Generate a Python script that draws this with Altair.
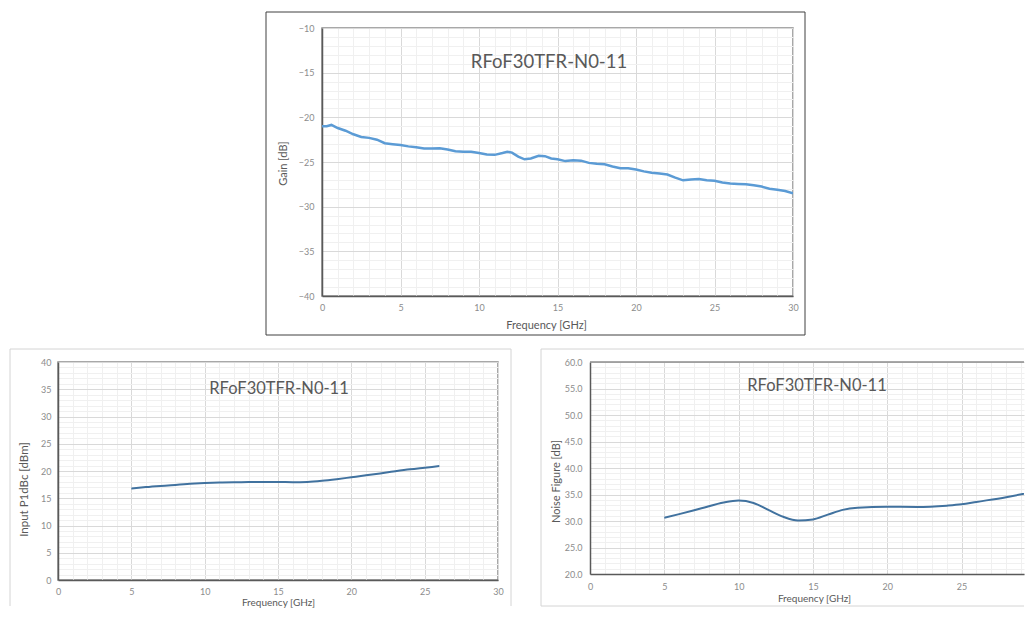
import altair as alt
import pandas as pd

# ---------------- data ----------------
gain_freq = [0, 0.3, 0.6, 1, 1.5, 2, 2.5, 3, 3.5, 4, 4.5, 5, 5.5, 6, 6.5, 7, 7.5, 8, 8.5, 9, 9.5,
             10, 10.5, 11, 11.5, 11.8, 12.1, 12.5, 12.9, 13.3, 13.8, 14.2, 14.6,
             15, 15.5, 16, 16.5, 17, 17.5, 18, 18.5, 19, 19.5, 20, 20.5, 21, 21.5, 22, 22.5,
             23, 23.5, 24, 24.5, 25, 25.5, 26, 26.5, 27, 27.5, 28, 28.5, 29, 29.5, 30]
gain_db = [-21.0, -21.0, -20.85, -21.2, -21.5, -21.9, -22.2, -22.3, -22.5, -22.9, -23.0, -23.1,
           -23.25, -23.35, -23.5, -23.5, -23.45, -23.6, -23.8, -23.85, -23.85, -24.0, -24.15,
           -24.2, -24.0, -23.85, -23.95, -24.4, -24.7, -24.6, -24.3, -24.35, -24.6,
           -24.7, -24.9, -24.8, -24.85, -25.1, -25.2, -25.25, -25.5, -25.7, -25.7, -25.85,
           -26.05, -26.2, -26.3, -26.4, -26.75, -27.05, -26.95, -26.9, -27.05, -27.1, -27.3,
           -27.4, -27.45, -27.5, -27.6, -27.75, -28.0, -28.1, -28.25, -28.5]

p1_freq = [5, 6, 7.5, 9, 10, 11, 12.5, 14, 15, 16, 17, 18, 19, 20, 21, 22.5, 24, 25, 26]
p1_dbm = [16.8, 17.05, 17.35, 17.65, 17.8, 17.9, 17.95, 18.0, 18.0, 17.95, 18.0, 18.2, 18.5,
          18.85, 19.2, 19.75, 20.3, 20.6, 20.9]

nf_freq = [5, 6, 7.5, 9, 10, 11, 12, 13, 14, 15, 16, 17, 18, 20, 22, 24, 25, 26, 28, 30]
nf_db = [30.6, 31.3, 32.4, 33.5, 33.85, 33.4, 32.1, 30.8, 30.1, 30.3, 31.2, 32.1, 32.5, 32.7,
         32.65, 32.9, 33.15, 33.6, 34.5, 35.6]

chart_title = "RFoF30TFR-N0-11"
x_ticks = list(range(0, 31))
x_ticks_nf = list(range(0, 30))
gain_ticks = list(range(-40, -9))
p1_ticks = list(range(0, 41))
nf_ticks = list(range(20, 61))

FONT = "Lato"
GRID = {"condition": {"test": "datum.value % 5 === 0", "value": "#d9d9d9"}, "value": "#f0f0f0"}
LABEL_EXPR = "datum.value % 5 === 0 ? datum.label : ''"


def x_axis(values, title, tx, ty, pad, tsize):
    return alt.Axis(values=values, labelExpr=LABEL_EXPR, gridColor=GRID, gridWidth=1,
                    ticks=False, tickSize=0, domainColor="#595959", domainWidth=1.5,
                    labelFont=FONT, labelFontSize=9, labelColor="#8c8c8c", labelPadding=pad,
                    labelFlush=False, labelOverlap=False,
                    title=title, titleFont=FONT, titleFontSize=tsize, titleFontWeight="normal",
                    titleColor="#595959", titleX=tx, titleY=ty, titleBaseline="middle",
                    titleAlign="center")


def y_axis(values, title, tx, ty, pad, tsize, fmt=None):
    kw = {}
    if fmt:
        kw["format"] = fmt
    return alt.Axis(values=values, labelExpr=LABEL_EXPR, gridColor=GRID, gridWidth=1,
                    ticks=False, tickSize=0, domainColor="#595959", domainWidth=1.5,
                    labelFont=FONT, labelFontSize=9, labelColor="#8c8c8c", labelPadding=pad,
                    labelFlush=False, labelOverlap=False,
                    title=title, titleFont=FONT, titleFontSize=tsize, titleFontWeight="normal",
                    titleColor="#595959", titleX=tx, titleY=ty, titleAngle=270,
                    titleBaseline="middle", titleAlign="center", **kw)


one = pd.DataFrame({"k": [0]})


def seg(x1, x2, y1, y2, color, sw=1):
    return alt.Chart(one).mark_rule(color=color, strokeWidth=sw).encode(
        x=alt.value(x1), x2=alt.value(x2), y=alt.value(y1), y2=alt.value(y2))


def panel(freq, vals, ycol, w, h, xdom, ydom, yax, xax, color, width, interp,
          tx, ty, tsize, frame_layers):
    df = pd.DataFrame({"Frequency": freq, ycol: vals})
    line = alt.Chart(df).mark_line(color=color, strokeWidth=width, interpolate=interp,
                                   clip=True).encode(
        x=alt.X("Frequency:Q", scale=alt.Scale(domain=xdom, nice=False, zero=False), axis=xax),
        y=alt.Y(f"{ycol}:Q", scale=alt.Scale(domain=ydom, nice=False, zero=False), axis=yax),
    )
    label = alt.Chart(one).mark_text(text=chart_title, font=FONT, fontSize=tsize, color="#595959",
                                     align="center", baseline="middle").encode(
        x=alt.value(tx), y=alt.value(ty))
    return alt.layer(line, label, *frame_layers).properties(width=w, height=h)


# ---- top: Gain ----
top_frame = alt.Chart(one).mark_rect(filled=False, stroke="#404040", strokeWidth=1).encode(
    x=alt.value(-56), x2=alt.value(483), y=alt.value(-16), y2=alt.value(307))
top = panel(gain_freq, gain_db, "Gain", 471, 268, [0, 30], [-40, -10],
            y_axis(gain_ticks, "Gain [dB]", -39, 135, 8, 11),
            x_axis(x_ticks, "Frequency [GHz]", 224, 29, 7, 11),
            "#5b9bd5", 2.5, "linear", 227, 34, 18.5, [top_frame])

# invisible spacer pushing the top chart to the right
spacer = alt.Chart(one).mark_point(opacity=0).encode(
    x=alt.value(0), y=alt.value(0)).properties(
    width=195, height=1, view=alt.ViewBackground(stroke="transparent"))

# ---- bottom left: Input P1dB ----
FL = "#d4d4d4"
bl_frame = [seg(-48, 453, -13, -13, FL), seg(-48, -48, -13, 244, FL), seg(453, 453, -13, 244, FL)]
bl = panel(p1_freq, p1_dbm, "P1dB", 440, 218, [0, 30], [0, 40],
           y_axis(p1_ticks, "Input P1dBc [dBm]", -34, 127, 7, 11.5),
           x_axis(x_ticks, "Frequency [GHz]", 220, 22, 7, 10),
           "#41729f", 2, "monotone", 221, 27, 16.5, bl_frame)

# ---- bottom right: Noise Figure (plot runs off the right edge) ----
BRW = 434
br_frame = [seg(-49, BRW, -13, -13, FL), seg(-49, -49, -13, 244, FL), seg(-49, BRW, 244, 244, FL),
            seg(0, BRW, 0, 0, "#8c8c8c", 1.5)]
br = panel(nf_freq, nf_db, "NF", BRW, 212, [0, 29.2], [20, 60],
           y_axis(nf_ticks, "Noise Figure [dB]", -34, 119, 8, 11, fmt=".1f"),
           x_axis(x_ticks_nf, "Frequency [GHz]", 224, 24, 8, 10),
           "#41729f", 2, "monotone", 227, 24, 16.5, br_frame).properties(
    view=alt.ViewBackground(stroke="transparent"))

chart = alt.vconcat(
    alt.hconcat(spacer, top, spacing=10),
    alt.hconcat(bl, br, spacing=26),
    spacing=10,
).properties(
    padding={"top": 2, "left": 0, "right": 0, "bottom": 0},
    background="white",
).configure_view(stroke="#8c8c8c", strokeWidth=1.5)

chart.save("out.html", embed_options={"renderer": "svg", "actions": False})
